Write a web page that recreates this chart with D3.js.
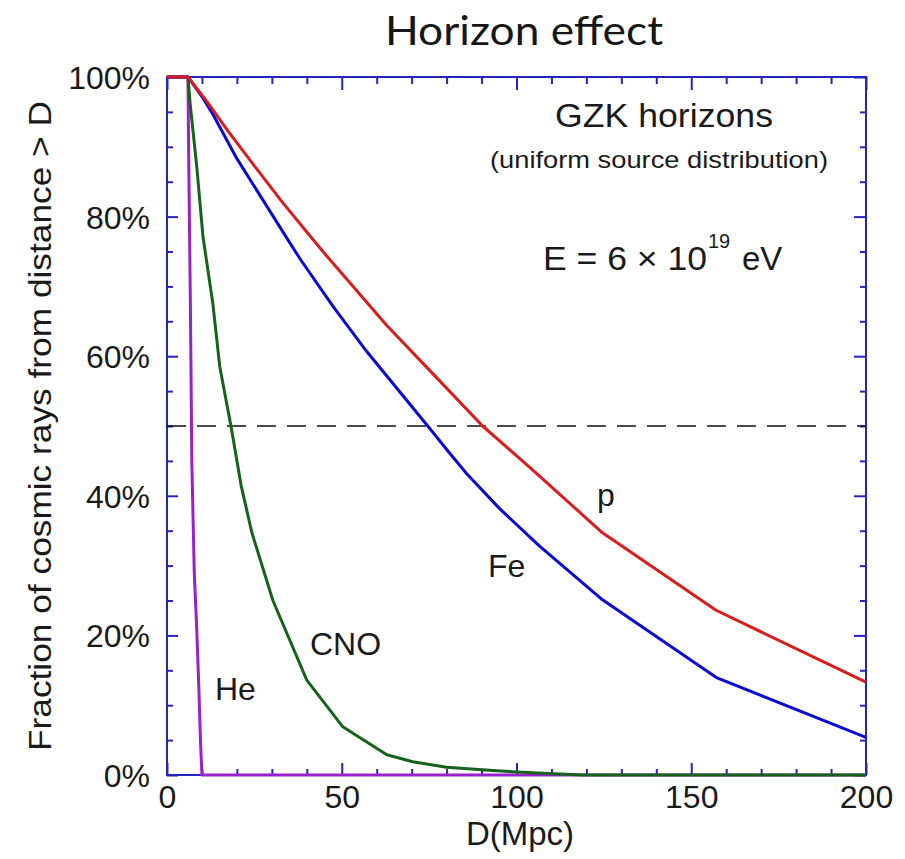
<!DOCTYPE html>
<html>
<head>
<meta charset="utf-8">
<script src="https://cdn.jsdelivr.net/npm/d3@7"></script>
<style>
  html, body { margin: 0; padding: 0; background: #fff; }
  svg { display: block; }
  text { font-family: "Liberation Sans", Arial, Helvetica, sans-serif; fill: #1a1a1a; }
</style>
</head>
<body>
<svg id="chart" width="905" height="859"></svg>
<script>
// Distance D (Mpc) and fraction (%) of cosmic rays arriving from beyond D
const pD    = [0, 6, 11.4, 17.1, 25.1, 33.1, 44.6, 62.9, 78.9, 90.3, 104.6, 124.6, 157.1, 200];
const pFrac = [100, 100, 96.5, 92.5, 87.2, 82.0, 75.0, 64.4, 56.0, 50, 43.7, 34.7, 23.6, 13.3];

const feD    = [0, 6, 10, 13.2, 20, 34.7, 38, 47.4, 57.1, 74.6, 80.9, 85.7, 95.1, 106.6, 124.6, 157.4, 200];
const feFrac = [100, 100, 97.2, 94.6, 88.3, 76.6, 74.0, 67.2, 60.7, 50, 46.1, 43.2, 38.2, 32.8, 25.1, 13.9, 5.4];

const cnoD    = [0, 6, 6.6, 8.6, 10.3, 13.1, 15.1, 18.3, 21.2, 24.3, 30.3, 40, 50.3, 62.9, 70.3, 80, 94.3, 106, 119, 200];
const cnoFrac = [100, 100, 96.3, 86.7, 77.1, 67.6, 58.5, 50, 41.5, 34.7, 25, 13.6, 6.9, 2.9, 1.9, 1.1, 0.6, 0.3, 0, 0];

const heD    = [0, 6, 6.2, 6.7, 7.1, 7.8, 8.5, 9.1, 9.6, 10, 200];
const heFrac = [100, 100, 89, 67, 45, 29, 21, 12.6, 4.6, 0, 0];

const xMajorTicks = [0, 50, 100, 150, 200];
const yMajorTicks = [0, 20, 40, 60, 80, 100];
const halfLevel = 50;

const series = [
  { name: "He",  d: heD,  f: heFrac,  color: "#9a1fcf" },
  { name: "CNO", d: cnoD, f: cnoFrac, color: "#15631a" },
  { name: "Fe",  d: feD,  f: feFrac,  color: "#0a0ad2" },
  { name: "p",   d: pD,   f: pFrac,   color: "#d91c1c" }
];

const svg = d3.select("#chart");
const frameColor = "#2424c4";

const x = d3.scaleLinear().domain([0, 200]).range([167, 866]);
const y = d3.scaleLinear().domain([0, 100]).range([775, 77]);

// Title
svg.append("text")
  .attr("x", 385).attr("y", 45)
  .attr("textLength", 278).attr("lengthAdjust", "spacingAndGlyphs")
  .style("font-family", "Lato, 'Open Sans', sans-serif")
  .style("font-size", "40px")
  .style("font-weight", 400)
  .style("fill", "#161616")
  .text("Horizon effect");

// Ticks on all four sides, pointing inward
function styleAxis(g) {
  g.select(".domain").remove();
  g.selectAll(".tick line").attr("stroke", frameColor).attr("stroke-width", 2);
  g.selectAll(".tick text").style("font-family", "'Liberation Sans', Arial, sans-serif")
    .style("font-size", "32px").attr("fill", "#1a1a1a");
}
const xMinor = d3.range(0, 201, 10).filter(v => !xMajorTicks.includes(v));
const yMinor = d3.range(0, 101, 5).filter(v => !yMajorTicks.includes(v));

// bottom
svg.append("g").attr("transform", `translate(0,${y(0)})`)
  .call(d3.axisBottom(x).tickValues(xMinor).tickSize(-6).tickFormat(""))
  .call(styleAxis);
svg.append("g").attr("transform", `translate(0,${y(0)})`)
  .call(d3.axisBottom(x).tickValues(xMajorTicks).tickSize(-12).tickFormat(d3.format("d")))
  .call(styleAxis)
  .call(g => g.selectAll(".tick text").attr("y", 33).attr("dy", 0));
// top
svg.append("g").attr("transform", `translate(0,${y(100)})`)
  .call(d3.axisTop(x).tickValues(xMinor).tickSize(-7).tickFormat(""))
  .call(styleAxis);
svg.append("g").attr("transform", `translate(0,${y(100)})`)
  .call(d3.axisTop(x).tickValues(xMajorTicks).tickSize(-13).tickFormat(""))
  .call(styleAxis);
// left
svg.append("g").attr("transform", `translate(${x(0)},0)`)
  .call(d3.axisLeft(y).tickValues(yMinor).tickSize(-6).tickFormat(""))
  .call(styleAxis);
svg.append("g").attr("transform", `translate(${x(0)},0)`)
  .call(d3.axisLeft(y).tickValues(yMajorTicks).tickSize(-11).tickFormat(d => d + "%"))
  .call(styleAxis)
  .call(g => g.selectAll(".tick text").attr("x", -17).attr("dy", "0.36em"));
// right
svg.append("g").attr("transform", `translate(${x(200)},0)`)
  .call(d3.axisRight(y).tickValues(yMinor).tickSize(-6).tickFormat(""))
  .call(styleAxis);
svg.append("g").attr("transform", `translate(${x(200)},0)`)
  .call(d3.axisRight(y).tickValues(yMajorTicks).tickSize(-12).tickFormat(""))
  .call(styleAxis);

// Frame
svg.append("rect")
  .attr("x", x(0)).attr("y", y(100))
  .attr("width", x(200) - x(0)).attr("height", y(0) - y(100))
  .attr("fill", "none").attr("stroke", frameColor).attr("stroke-width", 2);

// 50% reference line
svg.append("line")
  .attr("x1", x(0)).attr("x2", x(200))
  .attr("y1", y(halfLevel)).attr("y2", y(halfLevel))
  .attr("stroke", "#111").attr("stroke-width", 1.5)
  .attr("stroke-dasharray", "19,11");

// Curves
const line = d3.line().x(d => x(d[0])).y(d => y(d[1]));
series.forEach(s => {
  svg.append("path")
    .datum(s.d.map((v, i) => [v, s.f[i]]))
    .attr("d", line)
    .attr("fill", "none")
    .attr("stroke", s.color)
    .attr("stroke-width", 3)
    .attr("stroke-linejoin", "round");
});

// Curve labels
const labels = [
  { t: "p",   x: 597, y: 506 },
  { t: "Fe",  x: 488, y: 577 },
  { t: "CNO", x: 310, y: 655 },
  { t: "He",  x: 215, y: 700 }
];
labels.forEach(l => {
  svg.append("text").attr("x", l.x).attr("y", l.y)
    .style("font-size", "32px").text(l.t);
});

// Annotations
svg.append("text").attr("x", 555).attr("y", 127)
  .attr("textLength", 218).attr("lengthAdjust", "spacingAndGlyphs")
  .style("font-size", "33px").text("GZK horizons");
svg.append("text").attr("x", 490).attr("y", 168)
  .attr("textLength", 338).attr("lengthAdjust", "spacingAndGlyphs")
  .style("font-size", "24.5px").text("(uniform source distribution)");
svg.append("text").attr("x", 543).attr("y", 270)
  .attr("textLength", 164).attr("lengthAdjust", "spacingAndGlyphs")
  .style("font-size", "33px").text("E = 6 × 10");
svg.append("text").attr("x", 708).attr("y", 248)
  .style("font-size", "20px").text("19");
svg.append("text").attr("x", 742).attr("y", 270)
  .style("font-size", "33px").text("eV");

// Axis titles
svg.append("text").attr("x", 520).attr("y", 845)
  .attr("text-anchor", "middle")
  .style("font-size", "33px").text("D(Mpc)");
svg.append("text")
  .attr("transform", "translate(51,426) rotate(-90)")
  .attr("text-anchor", "middle")
  .attr("textLength", 650).attr("lengthAdjust", "spacingAndGlyphs")
  .style("font-size", "31px")
  .text("Fraction of cosmic rays from distance > D");
</script>
</body>
</html>
